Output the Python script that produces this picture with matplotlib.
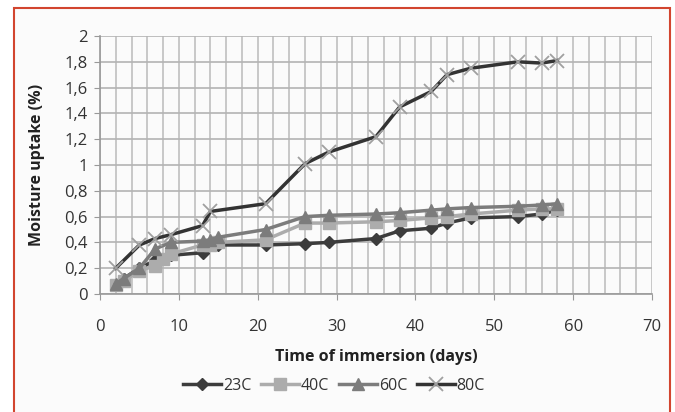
import matplotlib.pyplot as plt
import matplotlib.patches as patches
from matplotlib.ticker import MultipleLocator, FuncFormatter

### data ######################################################################

days_23 = [2, 3, 5, 7, 9, 13, 15, 21, 26, 29, 35, 38, 42, 44, 47, 53, 56, 58]
uptake_23 = [0.07, 0.12, 0.2, 0.26, 0.3, 0.32, 0.38, 0.38, 0.39, 0.4, 0.43, 0.49, 0.51, 0.55, 0.59, 0.6, 0.62, 0.65]

days_40 = [2, 3, 5, 7, 8, 9, 13, 14, 15, 21, 26, 29, 35, 38, 42, 44, 47, 53, 56, 58]
uptake_40 = [0.07, 0.1, 0.18, 0.22, 0.27, 0.31, 0.38, 0.38, 0.4, 0.42, 0.55, 0.55, 0.56, 0.57, 0.59, 0.6, 0.62, 0.65, 0.66, 0.66]

days_60 = [2, 3, 5, 7, 9, 13, 14, 15, 21, 26, 29, 35, 38, 42, 44, 47, 53, 56, 58]
uptake_60 = [0.08, 0.12, 0.2, 0.35, 0.4, 0.41, 0.42, 0.44, 0.5, 0.6, 0.61, 0.62, 0.63, 0.65, 0.66, 0.67, 0.68, 0.69, 0.7]

days_80 = [2, 5, 7, 9, 13, 14, 21, 26, 29, 35, 38, 42, 44, 47, 53, 56, 58]
uptake_80 = [0.2, 0.38, 0.43, 0.46, 0.53, 0.64, 0.7, 1.01, 1.1, 1.22, 1.45, 1.57, 1.7, 1.75, 1.8, 1.79, 1.81]

series = [
    ("23C", days_23, uptake_23, "#3c3c3c", "D", 6.5),
    ("40C", days_40, uptake_40, "#acacac", "s", 8),
    ("60C", days_60, uptake_60, "#7c7c7c", "^", 9),
    ("80C", days_80, uptake_80, "#333333", "x", 10),
]

### plot ######################################################################

plt.rcParams['font.family'] = ['Open Sans', 'DejaVu Sans']

fig = plt.figure(figsize=(6.75, 4.12), dpi=100)
fig.patch.set_facecolor("white")

# red frame round the chart
fig.patches.append(patches.Rectangle((14 / 675, -0.1), 656 / 675, 1.1 - 8 / 412,
                                     transform=fig.transFigure, fill=True, zorder=-5,
                                     facecolor="#fbfbfb", edgecolor="#d2452f", linewidth=1.5))

ax = fig.add_axes([100 / 675, 118 / 412, 552 / 675, 258 / 412])
ax.set_facecolor("none")

for name, x, y, col, mk, ms in series:
    if mk == "x":
        ax.plot(x, y, color=col, linewidth=2.5, marker=mk, markersize=ms,
                markeredgecolor="#a0a0a0", markeredgewidth=1.3, label=name)
    else:
        ax.plot(x, y, color=col, linewidth=2.5, marker=mk, markersize=ms,
                markeredgecolor=col, label=name)

ax.set_xlim(0, 70)
ax.set_ylim(0, 2)
ax.xaxis.set_major_locator(MultipleLocator(10))
ax.xaxis.set_minor_locator(MultipleLocator(2))
ax.yaxis.set_major_locator(MultipleLocator(0.2))
ax.yaxis.set_major_formatter(FuncFormatter(lambda v, p: ("%g" % round(v, 1)).replace(".", ",")))

ax.grid(which="both", axis="x", color="#c0c0c0", linewidth=1.2)
ax.grid(which="major", axis="y", color="#b4b4b4", linewidth=1.2)
ax.set_axisbelow(True)

for s in ["top", "right"]:
    ax.spines[s].set_visible(False)
for s in ["left", "bottom"]:
    ax.spines[s].set_color("#999999")
    ax.spines[s].set_linewidth(1.2)

ax.tick_params(axis="both", which="major", colors="#999999", length=4, labelsize=12, labelcolor="#333333")
ax.tick_params(axis="x", which="minor", length=0)
ax.tick_params(axis="x", pad=14)
ax.tick_params(axis="y", pad=5)

ax.set_xlabel("Time of immersion (days)", fontsize=11.5, fontweight="bold", color="#222222", labelpad=10)
ax.set_ylabel("Moisture uptake (%)", fontsize=11.5, fontweight="bold", color="#222222", labelpad=14)

ax.legend(loc="upper center", bbox_to_anchor=(0.424, -0.27), ncol=4, frameon=False,
          fontsize=11.5, handlelength=2.4, columnspacing=0.6, handletextpad=0.1, labelcolor="#333333")

fig.savefig("out.png", dpi=100)
